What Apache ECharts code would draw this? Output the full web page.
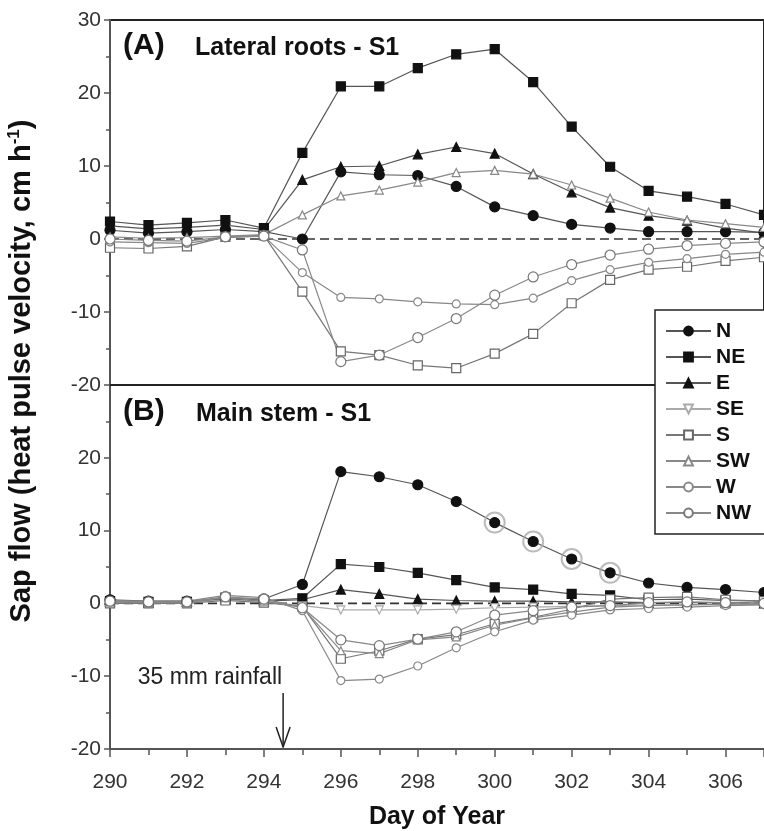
<!DOCTYPE html>
<html><head><meta charset="utf-8">
<script src="https://cdn.jsdelivr.net/npm/echarts@6/dist/echarts.min.js"></script>
<style>html,body{margin:0;padding:0;background:#fff}#c{width:764px;height:831px}</style>
</head><body><div id="c"></div>
<script>
// Day of year (x)
const days = [290,291,292,293,294,295,296,297,298,299,300,301,302,303,304,305,306,307];
const xTickLabels = [290,292,294,296,298,300,302,304,306];
const yTickLabelsTop = [30,20,10,0,-10,-20];
const yTickLabelsBottom = [20,10,0,-10,-20];

// Panel (A) Lateral roots - S1
const N_A  = [1.2, 0.8, 1.0, 1.3, 1.0, 0.0, 9.2, 8.8, 8.7, 7.2, 4.4, 3.2, 2.0, 1.5, 1.0, 1.0, 1.0, 0.9];
const NE_A = [2.4, 1.9, 2.2, 2.6, 1.5, 11.8, 20.9, 20.9, 23.4, 25.3, 26.0, 21.5, 15.4, 9.9, 6.6, 5.8, 4.8, 3.3];
const E_A  = [1.8, 1.4, 1.6, 1.9, 1.3, 8.1, 9.9, 10.0, 11.6, 12.6, 11.7, 8.9, 6.4, 4.3, 3.2, 2.5, 1.5, 0.8];
const S_A  = [-1.2, -1.3, -1.0, 0.3, 0.5, -7.2, -15.4, -15.9, -17.3, -17.7, -15.7, -13.0, -8.8, -5.6, -4.2, -3.8, -3.0, -2.5];
const SW_A = [0.3, 0.1, 0.2, 0.4, 0.6, 3.3, 5.9, 6.7, 7.8, 9.1, 9.4, 8.9, 7.4, 5.6, 3.7, 2.6, 2.1, 1.6];
const W_A  = [-0.4, -0.5, -0.6, 0.2, 0.4, -4.6, -8.0, -8.2, -8.6, -8.9, -9.0, -8.1, -5.7, -4.2, -3.2, -2.7, -2.1, -1.8];
const NW_A = [0.0, -0.2, -0.3, 0.3, 0.4, -1.5, -16.8, -15.9, -13.5, -10.9, -7.7, -5.2, -3.5, -2.2, -1.4, -0.9, -0.6, -0.4];

// Panel (B) Main stem - S1
const N_B  = [0.5, 0.3, 0.3, 0.6, 0.6, 2.6, 18.1, 17.4, 16.3, 14.0, 11.1, 8.5, 6.1, 4.2, 2.8, 2.2, 1.9, 1.5];
const NE_B = [0.3, 0.2, 0.2, 0.8, 0.4, 0.7, 5.4, 5.0, 4.2, 3.2, 2.2, 1.9, 1.3, 1.1, 0.5, 0.6, 0.4, 0.3];
const E_B  = [0.2, 0.1, 0.2, 0.6, 0.3, 0.5, 1.9, 1.3, 0.6, 0.4, 0.3, 0.3, 0.2, 0.2, 0.1, 0.1, 0.1, 0.0];
const SE_B = [0.1, 0.0, 0.1, 0.5, 0.2, -0.3, -0.9, -0.9, -0.9, -0.8, -0.6, -0.5, -0.4, -0.3, -0.2, -0.2, -0.1, -0.1];
const S_B  = [0.0, 0.0, 0.0, 0.4, 0.1, -0.4, -7.6, -6.5, -4.9, -4.3, -2.8, -1.9, -0.8, 0.6, 0.8, 0.9, 0.5, 0.3];
const SW_B = [0.2, 0.1, 0.1, 0.8, 0.3, -0.5, -6.5, -6.9, -5.0, -4.6, -3.0, -2.0, -1.2, -0.5, -0.3, -0.2, -0.1, -0.1];
const W_B  = [0.4, 0.3, 0.3, 1.1, 0.8, -1.0, -10.6, -10.4, -8.6, -6.1, -3.9, -2.3, -1.6, -0.9, -0.7, -0.5, -0.3, -0.2];
const NW_B = [0.3, 0.2, 0.2, 0.9, 0.6, -0.6, -5.0, -5.8, -4.9, -3.9, -1.6, -1.0, -0.5, -0.3, 0.1, 0.2, 0.1, 0.0];
// Days of N (main stem) that are ringed in the figure
const ringedDays = [300, 301, 302, 303];
// Rainfall event (day) and zero reference
const rainDay = 294.5;
const zeroRef = [[290, 0], [307, 0]];

const FONT = '"Liberation Sans", Arial, Helvetica, sans-serif';

const styles = {
  N:  {symbol:'circle',   size:10, rot:0,   fill:'#111', border:'#111', line:'#555'},
  NE: {symbol:'rect',     size:9,  rot:0,   fill:'#111', border:'#111', line:'#555'},
  E:  {symbol:'triangle', size:9,  rot:0,   fill:'#111', border:'#111', line:'#555'},
  SE: {symbol:'triangle', size:8,  rot:180, fill:'#fff', border:'#aaa', line:'#aaa'},
  S:  {symbol:'rect',     size:9,  rot:0,   fill:'#fff', border:'#666', line:'#777'},
  SW: {symbol:'triangle', size:8,  rot:0,   fill:'#fff', border:'#888', line:'#888'},
  W:  {symbol:'circle',   size:8,  rot:0,   fill:'#fff', border:'#888', line:'#888'},
  NW: {symbol:'circle',   size:10, rot:0,   fill:'#fff', border:'#777', line:'#888'}
};

function mk(name, vals, gi) {
  const s = styles[name];
  return {
    type:'line', name, xAxisIndex:gi, yAxisIndex:gi, z:3,
    data: days.map((d,i)=>[d, vals[i]]),
    symbol:s.symbol, symbolSize:s.size, symbolRotate:s.rot, showAllSymbol:true,
    lineStyle:{color:s.line, width:1.2},
    itemStyle:{color:s.fill, borderColor:s.border, borderWidth:1.2},
    emphasis:{disabled:true}, silent:true, animation:false
  };
}

function zeroSeries(gi) {
  return {type:'line', name:'zero', xAxisIndex:gi, yAxisIndex:gi, z:2, data:zeroRef,
    symbol:'none', silent:true, lineStyle:{type:[9,5], color:'#333', width:1.6}};
}

const series = [
  zeroSeries(0), zeroSeries(1),
  mk('N', N_A, 0), mk('NE', NE_A, 0), mk('E', E_A, 0), mk('S', S_A, 0),
  mk('SW', SW_A, 0), mk('W', W_A, 0), mk('NW', NW_A, 0),
  mk('N', N_B, 1), mk('NE', NE_B, 1), mk('E', E_B, 1), mk('SE', SE_B, 1), mk('S', S_B, 1),
  mk('SW', SW_B, 1), mk('W', W_B, 1), mk('NW', NW_B, 1),
  {
    type:'scatter', name:'ring', xAxisIndex:1, yAxisIndex:1, z:3,
    data: ringedDays.map(d => [d, N_B[days.indexOf(d)]]),
    symbol:'circle', symbolSize:20, silent:true,
    itemStyle:{color:'rgba(0,0,0,0)', borderColor:'#aaa', borderWidth:2}
  }
];

function yAxisCfg(gi, labels) {
  return {
    type:'value', gridIndex:gi, min:-20, max:30, interval:10,
    axisLine:{show:true, onZero:false, lineStyle:{color:'#555', width:2}},
    axisTick:{show:true, length:6, lineStyle:{color:'#555', width:1.5}},
    minorTick:{show:true, splitNumber:2, length:4, lineStyle:{color:'#555', width:1.5}},
    splitLine:{show:false},
    axisLabel:{fontSize:21, color:'#333', fontFamily:FONT, margin:9,
      formatter: v => labels.indexOf(v) >= 0 ? String(v) : ''}
  };
}

const chart = echarts.init(document.getElementById('c'), null, {renderer:'canvas'});
chart.setOption({
  animation:false,
  backgroundColor:'#fff',
  grid:[
    {left:110, top:20, width:655, height:365, show:true, borderColor:'#222', borderWidth:2, backgroundColor:'rgba(0,0,0,0)'},
    {left:110, top:385, width:655, height:364}
  ],
  xAxis:[
    {type:'value', gridIndex:0, min:290, max:307, interval:2,
     axisLine:{show:true, onZero:false, lineStyle:{color:'#222', width:2}},
     axisTick:{show:false}, axisLabel:{show:false}, splitLine:{show:false}},
    {type:'value', gridIndex:1, min:290, max:307, interval:2,
     axisLine:{show:true, onZero:false, lineStyle:{color:'#555', width:2}},
     axisTick:{show:true, length:8, lineStyle:{color:'#555', width:1.5}},
     minorTick:{show:true, splitNumber:2, length:6, lineStyle:{color:'#555', width:1.5}},
     splitLine:{show:false},
     axisLabel:{fontSize:21, color:'#333', fontFamily:FONT, margin:23, showMaxLabel:false,
       formatter: v => xTickLabels.indexOf(v) >= 0 ? String(v) : ''},
     name:'Day of Year', nameLocation:'middle', nameGap:56,
     nameTextStyle:{fontSize:25, fontWeight:'bold', color:'#111', fontFamily:FONT}}
  ],
  yAxis:[ yAxisCfg(0, yTickLabelsTop), yAxisCfg(1, yTickLabelsBottom) ],
  legend:{
    data:['N','NE','E','SE','S','SW','W','NW'],
    left:655, top:310, orient:'vertical',
    backgroundColor:'#fff', borderColor:'#222', borderWidth:1.5,
    padding:[10, 40, 10, 10], itemGap:4, itemWidth:45, itemHeight:11,
    textStyle:{fontSize:21, fontWeight:'bold', color:'#111', fontFamily:FONT, lineHeight:22},
    selectedMode:false
  },
  series
});

// Annotations: text labels, rainfall arrow located through the axis scale
const pTop = chart.convertToPixel({xAxisIndex:1, yAxisIndex:1}, [rainDay, -12.3]);
const pBot = chart.convertToPixel({xAxisIndex:1, yAxisIndex:1}, [rainDay, -20]);
chart.setOption({graphic:[
  {id:'ytitle', type:'text', x:22, y:371, rotation:Math.PI/2, silent:true,
   style:{text:'{b|Sap flow (heat pulse velocity, cm h}{s|-1}{b|)}', align:'center', verticalAlign:'middle',
     rich:{
       b:{fontSize:29, fontWeight:'bold', fill:'#111', fontFamily:FONT, lineHeight:32},
       s:{fontSize:17, fontWeight:'bold', fill:'#111', fontFamily:FONT, verticalAlign:'top', lineHeight:20}
     }}},
  {id:'pa', type:'text', left:123, top:31, silent:true,
   style:{text:'(A)', font:'bold 30px ' + FONT, fill:'#111'}},
  {id:'pat', type:'text', left:195, top:36, silent:true,
   style:{text:'Lateral roots - S1', font:'bold 25px ' + FONT, fill:'#111'}},
  {id:'pb', type:'text', left:123, top:397, silent:true,
   style:{text:'(B)', font:'bold 30px ' + FONT, fill:'#111'}},
  {id:'pbt', type:'text', left:196, top:402, silent:true,
   style:{text:'Main stem - S1', font:'bold 25px ' + FONT, fill:'#111'}},
  {id:'rain', type:'text', x:pTop[0]-1, y:pTop[1]-4, silent:true,
   style:{text:'35 mm rainfall', font:'23px ' + FONT, fill:'#222', align:'right', verticalAlign:'bottom'}},
  {id:'arrowShaft', type:'line', silent:true, shape:{x1:pTop[0], y1:pTop[1], x2:pBot[0], y2:pBot[1]-2},
   style:{stroke:'#222', lineWidth:1.5}},
  {id:'arrowHead', type:'polyline', silent:true,
   shape:{points:[[pBot[0]-7, pBot[1]-22], [pBot[0], pBot[1]-2], [pBot[0]+7, pBot[1]-22]]},
   style:{stroke:'#222', lineWidth:1.5, fill:null}}
]});
</script>
</body></html>
